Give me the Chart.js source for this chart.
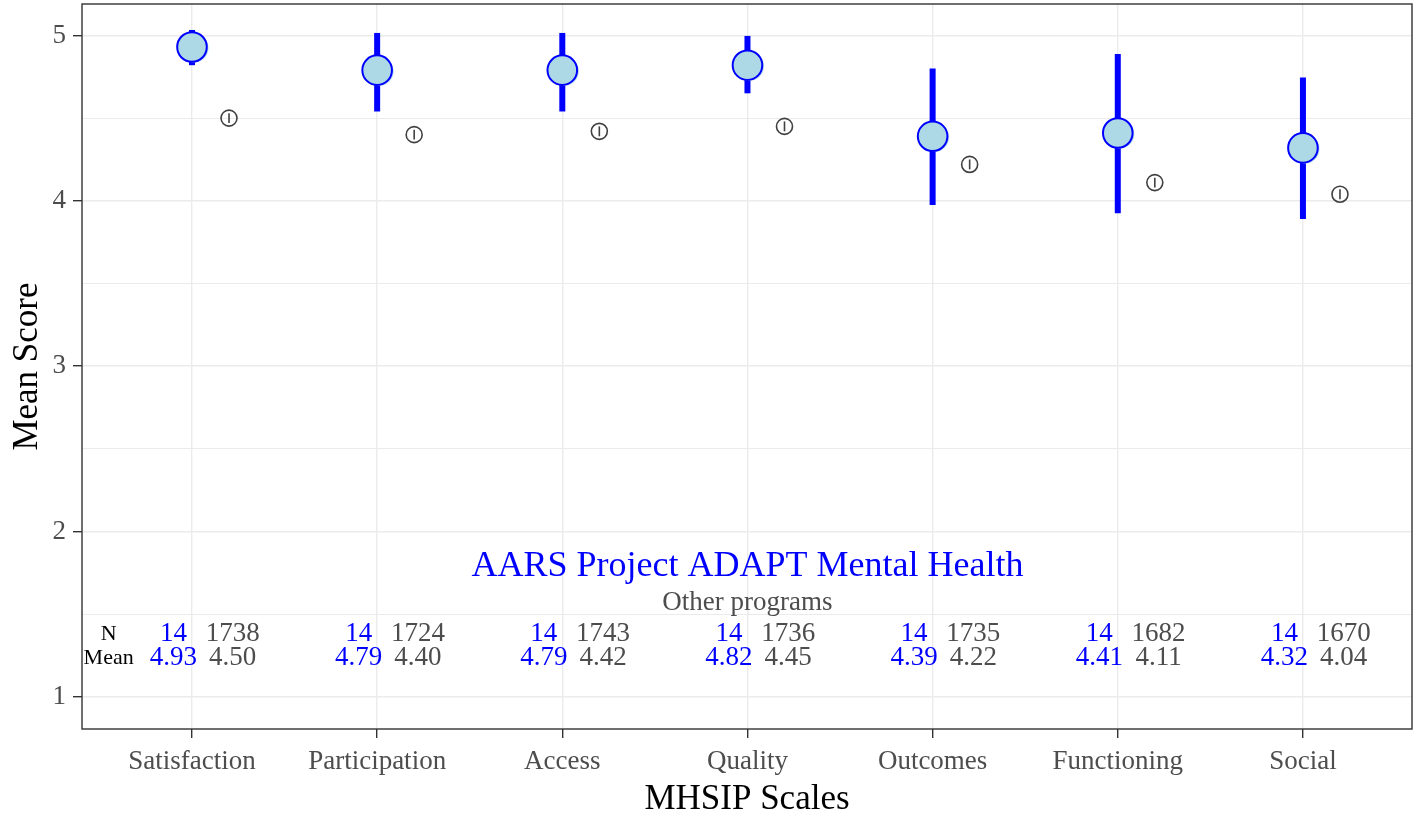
<!DOCTYPE html>
<html>
<head>
<meta charset="utf-8">
<script src="https://cdn.jsdelivr.net/npm/chart.js@4.4.1/dist/chart.umd.min.js"></script>
<style>
  html, body { margin: 0; padding: 0; background: #fff; }
  #wrap { width: 1416px; height: 817px; }
</style>
</head>
<body>
<div id="wrap"><canvas id="chart"></canvas></div>
<script>
// MHSIP scale means: this program vs. all other programs
const scaleNames = ['Satisfaction', 'Participation', 'Access', 'Quality', 'Outcomes', 'Functioning', 'Social'];

const progN    = [14, 14, 14, 14, 14, 14, 14];
const progMean = [4.93, 4.79, 4.79, 4.82, 4.39, 4.41, 4.32];
const progLow  = [4.82, 4.54, 4.54, 4.65, 3.975, 3.925, 3.89];
const progHigh = [5.033, 5.015, 5.015, 4.997, 4.80, 4.888, 4.745];

const otherN    = [1738, 1724, 1743, 1736, 1735, 1682, 1670];
const otherMean = [4.50, 4.40, 4.42, 4.45, 4.22, 4.11, 4.04];
const otherLow  = [4.47, 4.37, 4.39, 4.42, 4.19, 4.08, 4.01];
const otherHigh = [4.53, 4.43, 4.45, 4.48, 4.25, 4.14, 4.07];

const yMajor = [1, 2, 3, 4, 5];
const yMinor = [1.5, 2.5, 3.5, 4.5];

const programName = 'AARS Project ADAPT Mental Health';
const otherName = 'Other programs';

const FONT = "'Liberation Serif', 'Times New Roman', serif";
const BLUE = '#0000FF';
const LIGHT = '#ADD8E6';
const GREY_TEXT = '#4D4D4D';
const GRID = '#EBEBEB';

// keep the panel edge fixed: no extra room for edge tick labels
function noPadding(s) {
  s.paddingTop = 0;
  s.paddingBottom = 0;
  s.paddingLeft = 0;
  s.paddingRight = 0;
}

// error bars, annotation text and panel border
const overlay = {
  id: 'overlay',
  beforeDatasetsDraw(chart) {
    const { ctx, scales: { x, y } } = chart;
    ctx.save();
    ctx.lineCap = 'butt';

    ctx.strokeStyle = BLUE;
    ctx.lineWidth = 6;
    progMean.forEach((m, i) => {
      const px = x.getPixelForValue(i + 1);
      ctx.beginPath();
      ctx.moveTo(px, y.getPixelForValue(progLow[i]));
      ctx.lineTo(px, y.getPixelForValue(progHigh[i]));
      ctx.stroke();
    });

    ctx.strokeStyle = '#404040';
    ctx.lineWidth = 1.6;
    otherMean.forEach((m, i) => {
      const px = x.getPixelForValue(i + 1.2);
      ctx.beginPath();
      ctx.moveTo(px, y.getPixelForValue(otherLow[i]));
      ctx.lineTo(px, y.getPixelForValue(otherHigh[i]));
      ctx.stroke();
    });

    // soft fill offset behind the program markers
    ctx.fillStyle = LIGHT;
    progMean.forEach((m, i) => {
      ctx.beginPath();
      ctx.arc(x.getPixelForValue(i + 1) + 2, y.getPixelForValue(m) + 1, 14.5, 0, Math.PI * 2);
      ctx.fill();
    });
    ctx.restore();
  },
  afterDraw(chart) {
    const { ctx, chartArea: a, scales: { x, y } } = chart;
    ctx.save();
    ctx.textAlign = 'center';
    ctx.textBaseline = 'middle';

    ctx.fillStyle = BLUE;
    ctx.font = '36px ' + FONT;
    ctx.fillText(programName, x.getPixelForValue(4), y.getPixelForValue(1.786));
    ctx.fillStyle = GREY_TEXT;
    ctx.font = '27px ' + FONT;
    ctx.fillText(otherName, x.getPixelForValue(4), y.getPixelForValue(1.568));

    const rowN = y.getPixelForValue(1.38);
    const rowMean = y.getPixelForValue(1.236);
    ctx.fillStyle = '#000';
    ctx.font = '22px ' + FONT;
    ctx.fillText('N', x.getPixelForValue(0.55), rowN);
    ctx.fillText('Mean', x.getPixelForValue(0.55), rowMean);

    ctx.font = '27px ' + FONT;
    scaleNames.forEach((s, i) => {
      const pb = x.getPixelForValue(i + 0.9);
      const po = x.getPixelForValue(i + 1.22);
      ctx.fillStyle = BLUE;
      ctx.fillText(String(progN[i]), pb, rowN);
      ctx.fillText(progMean[i].toFixed(2), pb, rowMean);
      ctx.fillStyle = GREY_TEXT;
      ctx.fillText(String(otherN[i]), po, rowN);
      ctx.fillText(otherMean[i].toFixed(2), po, rowMean);
    });

    ctx.strokeStyle = '#333333';
    ctx.lineWidth = 1.4;
    ctx.strokeRect(a.left, a.top, a.right - a.left, a.bottom - a.top);
    ctx.restore();
  }
};

new Chart(document.getElementById('chart'), {
  type: 'scatter',
  data: {
    datasets: [
      {
        label: otherName,
        data: otherMean.map((m, i) => ({ x: i + 1.2, y: m })),
        pointRadius: 8,
        pointBackgroundColor: 'rgba(0,0,0,0)',
        pointBorderColor: '#404040',
        pointBorderWidth: 1.6
      },
      {
        label: programName,
        data: progMean.map((m, i) => ({ x: i + 1, y: m })),
        pointRadius: 14.8,
        pointBackgroundColor: LIGHT,
        pointBorderColor: BLUE,
        pointBorderWidth: 2
      }
    ]
  },
  options: {
    responsive: true,
    maintainAspectRatio: false,
    animation: false,
    layout: { autoPadding: false, padding: { left: 0, right: 4, top: 4, bottom: 0 } },
    plugins: {
      legend: { display: false },
      tooltip: { enabled: false }
    },
    scales: {
      x: {
        type: 'linear',
        min: 0.406,
        max: 7.589,
        afterBuildTicks: (s) => { s.ticks = scaleNames.map((n, i) => ({ value: i + 1 })); },
        afterFit: (s) => { s.height = 88; noPadding(s); },
        border: { display: false },
        grid: { color: GRID, lineWidth: 1.4, tickColor: '#333333', tickLength: 9 },
        ticks: {
          autoSkip: false,
          maxRotation: 0,
          padding: 8,
          color: GREY_TEXT,
          font: { family: FONT, size: 27 },
          callback: (v) => scaleNames[v - 1]
        },
        title: {
          display: true,
          text: 'MHSIP Scales',
          color: '#000',
          font: { family: FONT, size: 35, lineHeight: 1 },
          padding: { top: 0, bottom: 0 }
        }
      },
      y: {
        min: 0.806,
        max: 5.19,
        afterBuildTicks: (s) => {
          s.ticks = yMajor.concat(yMinor).sort((a, b) => a - b).map(v => ({ value: v }));
        },
        afterFit: (s) => { s.width = 82; noPadding(s); },
        border: { display: false },
        grid: {
          color: GRID,
          lineWidth: (c) => Number.isInteger(c.tick.value) ? 1.4 : 1,
          tickColor: (c) => Number.isInteger(c.tick.value) ? '#333333' : 'rgba(0,0,0,0)',
          tickLength: 9
        },
        ticks: {
          autoSkip: false,
          padding: 7,
          color: GREY_TEXT,
          font: { family: FONT, size: 27 },
          callback: (v) => Number.isInteger(v) ? String(v) : ''
        },
        title: {
          display: true,
          text: 'Mean Score',
          color: '#000',
          font: { family: FONT, size: 35, lineHeight: 1 },
          padding: { top: 10, bottom: 0 }
        }
      }
    }
  },
  plugins: [overlay]
});
</script>
</body>
</html>
